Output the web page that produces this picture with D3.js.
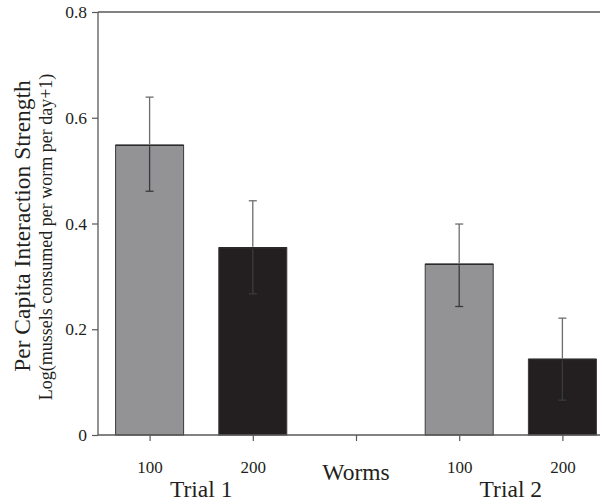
<!DOCTYPE html>
<html>
<head>
<meta charset="utf-8">
<script src="https://cdn.jsdelivr.net/npm/d3@7"></script>
<style>
  body { margin: 0; background: #fff; }
  text { font-family: "Liberation Serif", "Times New Roman", serif; fill: #231f20; }
</style>
</head>
<body>
<svg id="chart" width="608" height="501"></svg>
<script>
// slots on the x axis (the middle one is the empty gap between trials)
const slots = ["t1-100", "t1-200", "gap", "t2-100", "t2-200"];
const slotLabels = ["100", "200", "", "100", "200"];

const bars = [
    { slot: "t1-100", worms: 100, value: 0.548, lo: 0.461, hi: 0.639 },
    { slot: "t1-200", worms: 200, value: 0.354, lo: 0.267, hi: 0.443 },
    { slot: "t2-100", worms: 100, value: 0.323, lo: 0.243, hi: 0.399 },
    { slot: "t2-200", worms: 200, value: 0.143, lo: 0.066, hi: 0.221 }
];

const yTicks = [0, 0.2, 0.4, 0.6, 0.8];
const trialLabels = [
    { text: "Trial 1", slot: "t1-100", slot2: "t1-200" },
    { text: "Trial 2", slot: "t2-100", slot2: "t2-200" }
];

const COLORS = {
    100: "#939396",
    200: "#231f20",
    axis: "#58585a",
    whiskerUp: "#6d6d70",
    whiskerDown: "#3a3a3c"
};
const FONT = "'Liberation Serif', 'Times New Roman', serif";

const svg = d3.select("#chart");
const M = { left: 98, right: 600, top: 12, bottom: 435 };

const x = d3.scalePoint().domain(slots).range([M.left, 614]).padding(0.5);
const y = d3.scaleLinear().domain([0, 0.8]).range([M.bottom, M.top]);
const barW = 68;

// bars
svg.selectAll(".bar")
    .data(bars)
    .enter()
    .append("rect")
    .attr("class", "bar")
    .attr("x", d => x(d.slot) - barW / 2)
    .attr("y", d => y(d.value))
    .attr("width", barW)
    .attr("height", d => y(0) - y(d.value))
    .style("fill", d => COLORS[d.worms])
    .style("stroke", "#3a3a3c")
    .style("stroke-width", 1);

// darker top edge on bars
svg.selectAll(".barTop")
    .data(bars)
    .enter()
    .append("line")
    .attr("x1", d => x(d.slot) - barW / 2)
    .attr("x2", d => x(d.slot) + barW / 2)
    .attr("y1", d => y(d.value))
    .attr("y2", d => y(d.value))
    .style("stroke", "#2a2a2a")
    .style("stroke-width", 1.6);

// error bars
const err = svg.selectAll(".err").data(bars).enter().append("g").attr("class", "err");
err.append("line")
    .attr("x1", d => x(d.slot)).attr("x2", d => x(d.slot))
    .attr("y1", d => y(d.hi)).attr("y2", d => y(d.value) - 1)
    .style("stroke", COLORS.whiskerUp).style("stroke-width", 1.3);
err.append("line")
    .attr("x1", d => x(d.slot)).attr("x2", d => x(d.slot))
    .attr("y1", d => y(d.value) + 1).attr("y2", d => y(d.lo))
    .style("stroke", COLORS.whiskerDown).style("stroke-width", 1.3);
err.append("line")
    .attr("x1", d => x(d.slot) - 4).attr("x2", d => x(d.slot) + 4)
    .attr("y1", d => y(d.hi)).attr("y2", d => y(d.hi))
    .style("stroke", COLORS.whiskerUp).style("stroke-width", 1.3);
err.append("line")
    .attr("x1", d => x(d.slot) - 4).attr("x2", d => x(d.slot) + 4)
    .attr("y1", d => y(d.lo)).attr("y2", d => y(d.lo))
    .style("stroke", COLORS.whiskerDown).style("stroke-width", 1.3);

// y axis
const yAxis = svg.append("g")
    .attr("transform", "translate(" + M.left + ",0)")
    .call(d3.axisLeft(y).tickValues(yTicks).tickSize(6).tickPadding(5)
        .tickFormat(d => d === 0 ? "0" : d3.format(".1f")(d)));
yAxis.attr("font-family", null).attr("font-size", null);
yAxis.select(".domain").remove();
yAxis.selectAll("line").style("stroke", COLORS.axis).style("stroke-width", 1.2);
yAxis.selectAll("text").style("font-family", FONT).style("font-size", "17.5px");

svg.append("line")
    .attr("x1", M.left).attr("x2", M.left).attr("y1", M.top).attr("y2", M.bottom)
    .style("stroke", COLORS.axis).style("stroke-width", 1.3);
svg.append("line")
    .attr("x1", M.left).attr("x2", M.right).attr("y1", M.top).attr("y2", M.top)
    .style("stroke", COLORS.axis).style("stroke-width", 1.3);

// x axis
const xAxis = svg.append("g")
    .attr("transform", "translate(0," + M.bottom + ")")
    .call(d3.axisBottom(x).tickSize(6).tickPadding(20)
        .tickFormat((d, i) => slotLabels[i]));
xAxis.attr("font-family", null).attr("font-size", null);
xAxis.select(".domain").remove();
xAxis.selectAll("line").style("stroke", COLORS.axis).style("stroke-width", 1.2);
xAxis.selectAll("text").style("font-family", FONT).style("font-size", "17px");

svg.append("line")
    .attr("x1", M.left).attr("x2", M.right).attr("y1", M.bottom).attr("y2", M.bottom)
    .style("stroke", COLORS.axis).style("stroke-width", 1.3);

// group labels
svg.selectAll(".trial")
    .data(trialLabels)
    .enter()
    .append("text")
    .attr("x", d => (x(d.slot) + x(d.slot2)) / 2)
    .attr("y", 497)
    .attr("text-anchor", "middle")
    .style("font-family", FONT)
    .style("font-size", "23.5px")
    .text(d => d.text);

svg.append("text")
    .attr("x", x("gap"))
    .attr("y", 480)
    .attr("text-anchor", "middle")
    .style("font-family", FONT)
    .style("font-size", "23.5px")
    .text("Worms");

// y title
svg.append("text")
    .attr("transform", "translate(30,226) rotate(-90)")
    .attr("text-anchor", "middle")
    .style("font-family", FONT)
    .style("font-size", "23.5px")
    .text("Per Capita Interaction Strength");
svg.append("text")
    .attr("transform", "translate(52,237) rotate(-90)")
    .attr("text-anchor", "middle")
    .style("font-family", FONT)
    .style("font-size", "18px")
    .text("Log(mussels consumed per worm per day+1)");
</script>
</body>
</html>
